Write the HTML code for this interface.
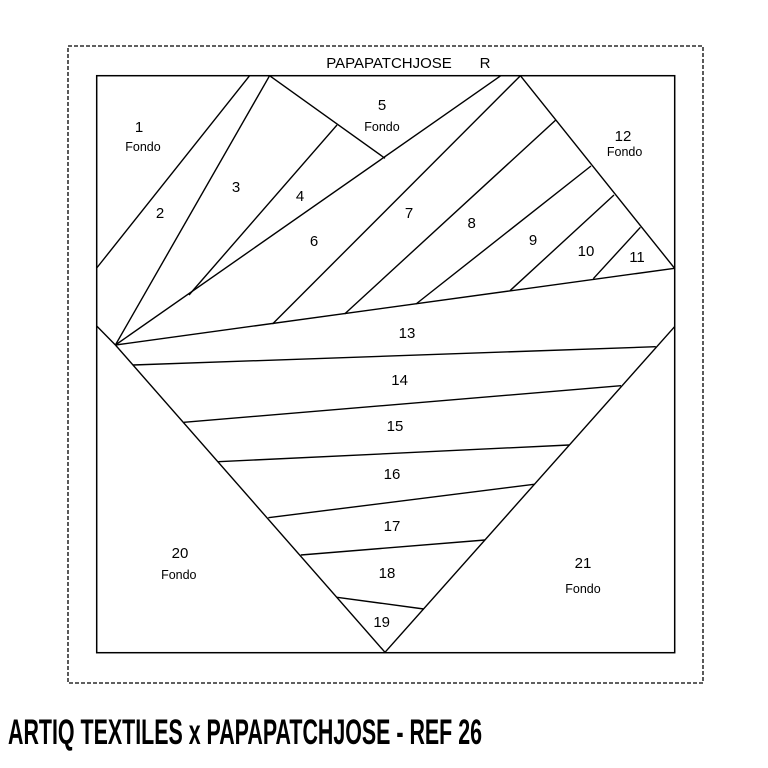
<!DOCTYPE html>
<html><head><meta charset="utf-8"><style>
html,body{margin:0;padding:0;background:#fff;}
svg{display:block;}
text{font-family:"Liberation Sans",Arial,sans-serif;fill:#000;}
</style></head><body>
<svg width="768" height="768" viewBox="0 0 768 768" xmlns="http://www.w3.org/2000/svg">
<rect x="0" y="0" width="768" height="768" fill="#fff"/>
<rect x="68" y="46" width="635" height="637" fill="none" stroke="#000" stroke-width="1.3" stroke-dasharray="4,2"/>
<rect x="96.7" y="75.7" width="578" height="577" fill="none" stroke="#000" stroke-width="1.5"/>
<g stroke="#000" stroke-width="1.4" fill="none">
<line x1="249.6" y1="75.7" x2="96.7" y2="268"/>
<line x1="269.6" y1="75.7" x2="115.4" y2="345"/>
<line x1="269.6" y1="75.7" x2="385" y2="158.3"/>
<line x1="337" y1="125" x2="189" y2="295"/>
<line x1="500.8" y1="75.7" x2="115.4" y2="345"/>
<line x1="520.4" y1="75.7" x2="674.6" y2="268.3"/>
<line x1="520.4" y1="75.7" x2="272.5" y2="324"/>
<line x1="555.8" y1="120" x2="344.6" y2="314"/>
<line x1="591" y1="166" x2="416" y2="304"/>
<line x1="614" y1="195" x2="510" y2="290.7"/>
<line x1="640.4" y1="227.3" x2="593.3" y2="278.7"/>
<line x1="115.4" y1="345" x2="674.6" y2="268.3"/>
<line x1="96.7" y1="326" x2="115.4" y2="345"/>
<line x1="115.4" y1="345" x2="385" y2="652.3"/>
<line x1="674.6" y1="326.7" x2="385" y2="652.3"/>
<line x1="133" y1="365" x2="655.8" y2="346.7"/>
<line x1="183.8" y1="422.3" x2="621" y2="385.7"/>
<line x1="218.3" y1="461.7" x2="569" y2="445"/>
<line x1="268.3" y1="517.7" x2="534" y2="484.3"/>
<line x1="300.8" y1="555" x2="485" y2="540"/>
<line x1="337" y1="597.3" x2="423.8" y2="609"/>
</g>
<g font-size="15" text-anchor="middle">
<text x="389" y="68" font-size="15">PAPAPATCHJOSE</text>
<text x="485" y="68" font-size="15">R</text>
<text x="139" y="132">1</text>
<text x="160" y="218">2</text>
<text x="236" y="192">3</text>
<text x="300" y="201">4</text>
<text x="382" y="110">5</text>
<text x="314" y="246">6</text>
<text x="409" y="218">7</text>
<text x="471.7" y="228">8</text>
<text x="533" y="245">9</text>
<text x="586" y="256">10</text>
<text x="637" y="262">11</text>
<text x="623" y="141">12</text>
<text x="407" y="338">13</text>
<text x="399.6" y="385">14</text>
<text x="395" y="431">15</text>
<text x="392" y="479">16</text>
<text x="392" y="531">17</text>
<text x="387" y="578">18</text>
<text x="381.7" y="627">19</text>
<text x="180" y="558">20</text>
<text x="583" y="568">21</text>
</g>
<g font-size="12.5" text-anchor="middle">
<text x="143" y="151">Fondo</text>
<text x="382" y="131">Fondo</text>
<text x="624.6" y="156">Fondo</text>
<text x="178.8" y="579">Fondo</text>
<text x="583" y="593">Fondo</text>
</g>
<text x="8" y="744" font-size="35" font-weight="bold" font-family="'Liberation Sans Narrow','Liberation Sans',sans-serif" textLength="474" lengthAdjust="spacingAndGlyphs">ARTIQ TEXTILES x PAPAPATCHJOSE - REF 26</text>
</svg>
</body></html>
